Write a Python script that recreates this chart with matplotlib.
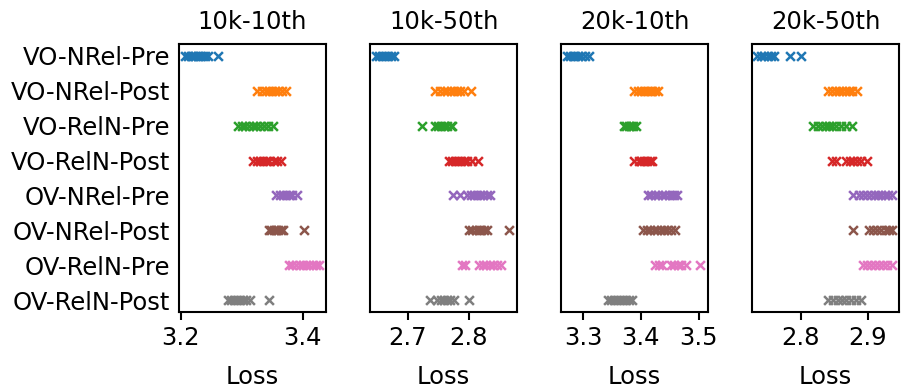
import matplotlib
matplotlib.use("Agg")
import matplotlib.pyplot as plt

# row labels, top to bottom
labels = ["VO-NRel-Pre", "VO-NRel-Post", "VO-RelN-Pre", "VO-RelN-Post",
          "OV-NRel-Pre", "OV-NRel-Post", "OV-RelN-Pre", "OV-RelN-Post"]
titles = ["10k-10th", "10k-50th", "20k-10th", "20k-50th"]

# losses per setting, one list per row
loss_10k_10 = [
    [3.207, 3.212, 3.216, 3.220, 3.224, 3.228, 3.232, 3.236, 3.240, 3.245, 3.261],
    [3.325, 3.333, 3.340, 3.345, 3.350, 3.355, 3.360, 3.366, 3.373],
    [3.294, 3.300, 3.306, 3.312, 3.318, 3.324, 3.330, 3.336, 3.343, 3.351],
    [3.318, 3.325, 3.330, 3.335, 3.340, 3.345, 3.352, 3.358, 3.365],
    [3.356, 3.362, 3.367, 3.372, 3.377, 3.382, 3.390],
    [3.344, 3.348, 3.352, 3.356, 3.360, 3.364, 3.368, 3.402],
    [3.377, 3.383, 3.389, 3.395, 3.400, 3.405, 3.410, 3.416, 3.421, 3.426],
    [3.277, 3.282, 3.287, 3.292, 3.297, 3.302, 3.307, 3.313, 3.344],
]
loss_10k_50 = [
    [2.648, 2.653, 2.658, 2.663, 2.668, 2.673, 2.678],
    [2.745, 2.752, 2.760, 2.765, 2.770, 2.775, 2.780, 2.786, 2.792, 2.803],
    [2.724, 2.744, 2.750, 2.755, 2.760, 2.765, 2.770, 2.773],
    [2.767, 2.772, 2.777, 2.782, 2.787, 2.792, 2.797, 2.805, 2.815],
    [2.774, 2.786, 2.797, 2.803, 2.808, 2.813, 2.818, 2.823, 2.829, 2.835],
    [2.801, 2.806, 2.811, 2.816, 2.820, 2.825, 2.829, 2.866],
    [2.789, 2.793, 2.817, 2.823, 2.828, 2.834, 2.840, 2.846, 2.852],
    [2.737, 2.748, 2.754, 2.759, 2.764, 2.769, 2.775, 2.800],
]
loss_20k_10 = [
    [3.272, 3.277, 3.282, 3.287, 3.292, 3.297, 3.303, 3.311],
    [3.389, 3.395, 3.400, 3.405, 3.410, 3.415, 3.420, 3.424, 3.429],
    [3.371, 3.375, 3.379, 3.383, 3.387, 3.392],
    [3.388, 3.396, 3.401, 3.405, 3.410, 3.415, 3.420],
    [3.413, 3.418, 3.424, 3.430, 3.436, 3.442, 3.448, 3.453, 3.458, 3.463],
    [3.404, 3.410, 3.416, 3.422, 3.428, 3.434, 3.440, 3.446, 3.452, 3.459],
    [3.425, 3.431, 3.436, 3.452, 3.458, 3.464, 3.470, 3.478, 3.503],
    [3.344, 3.349, 3.354, 3.359, 3.364, 3.369, 3.374, 3.379, 3.385],
]
loss_20k_50 = [
    [2.736, 2.741, 2.746, 2.751, 2.756, 2.761, 2.785, 2.800],
    [2.841, 2.847, 2.852, 2.857, 2.862, 2.867, 2.872, 2.877, 2.883],
    [2.818, 2.826, 2.832, 2.837, 2.842, 2.847, 2.852, 2.860, 2.868, 2.876],
    [2.847, 2.852, 2.868, 2.873, 2.878, 2.883, 2.890, 2.898],
    [2.878, 2.886, 2.893, 2.899, 2.905, 2.910, 2.915, 2.920, 2.925, 2.930, 2.936],
    [2.878, 2.902, 2.908, 2.914, 2.920, 2.926, 2.931, 2.936],
    [2.892, 2.898, 2.904, 2.910, 2.916, 2.922, 2.928, 2.936],
    [2.841, 2.848, 2.855, 2.862, 2.868, 2.875, 2.882, 2.890],
]
all_losses = [loss_10k_10, loss_10k_50, loss_20k_10, loss_20k_50]

xlims = [(3.197, 3.438), (2.638, 2.879), (3.262, 3.516), (2.728, 2.946)]
xticks = [[3.2, 3.4], [2.7, 2.8], [3.3, 3.4, 3.5], [2.8, 2.9]]
colors = plt.rcParams["axes.prop_cycle"].by_key()["color"]

fs = 17.5
fig = plt.figure(figsize=(9.04, 3.9), dpi=100)
lefts = [179, 370, 561, 752]

for i, losses in enumerate(all_losses):
    ax = fig.add_axes([lefts[i] / 904, 1 - 312 / 390, 147 / 904, 268 / 390])
    for r, vals in enumerate(losses):
        ax.scatter(vals, [r] * len(vals), marker="x", color=colors[r], s=40, linewidths=1.8)
    ax.set_ylim(7.34, -0.34)
    ax.set_xlim(*xlims[i])
    ax.set_xticks(xticks[i])
    ax.set_xticklabels([str(t) for t in xticks[i]])
    ax.set_title(titles[i], fontsize=fs, pad=11)
    ax.set_xlabel("Loss", fontsize=fs, labelpad=11)
    ax.tick_params(axis="x", labelsize=fs, length=6, width=1.5, pad=4)
    for s in ax.spines.values():
        s.set_linewidth(1.5)
    if i == 0:
        ax.set_yticks(range(len(labels)))
        ax.set_yticklabels(labels)
        ax.tick_params(axis="y", labelsize=fs, length=0, pad=6.5)
    else:
        ax.set_yticks([])

fig.savefig("out.png", dpi=100)
